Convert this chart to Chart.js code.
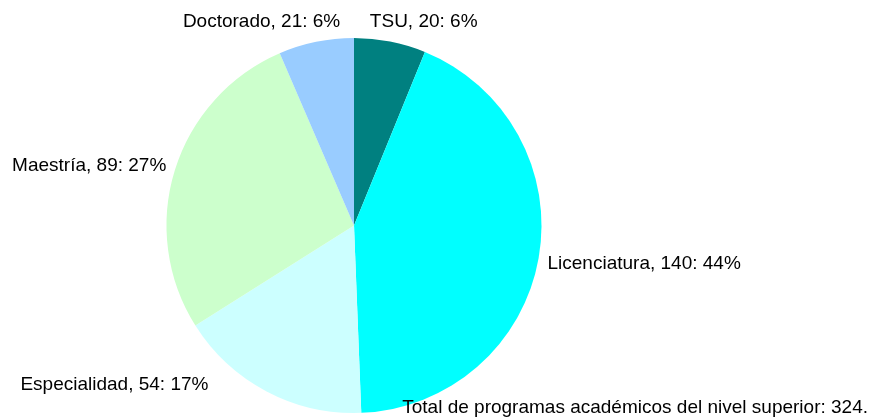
<!DOCTYPE html>
<html>
<head>
<meta charset="utf-8">
<script src="https://cdn.jsdelivr.net/npm/chart.js@4/dist/chart.umd.min.js"></script>
<style>
  html, body { margin: 0; padding: 0; background: #fff; }
  #wrap { width: 875px; height: 419px; }
</style>
</head>
<body>
<div id="wrap"><canvas id="c"></canvas></div>
<script>
// data
const niveles = ['TSU', 'Licenciatura', 'Especialidad', 'Maestría', 'Doctorado']
const programas = [20, 140, 54, 89, 21]
const colores = ['#008080', '#00FFFF', '#CCFFFF', '#CCFFCC', '#99CCFF']
const totalTexto = 'Total de programas académicos del nivel superior: '

// small per-label nudges (px), the original spreads some labels apart
const nudges = [[-22, -6], [0, 1], [-54, -23], [0, -1], [26, -6]]

const FONT = '19px "Liberation Sans", Arial, sans-serif'

// rounded percents, leftover goes to the biggest slice so they add up to 100
function percents(data){
  const total = data.reduce((a, b) => a + b, 0)
  const p = data.map(v => Math.round(v / total * 100))
  const diff = 100 - p.reduce((a, b) => a + b, 0)
  const big = data.indexOf(Math.max(...data))
  p[big] += diff
  return p
}

const pieLabels = {
  id: 'pieLabels',
  afterDraw(chart) {
    const ctx = chart.ctx
    const meta = chart.getDatasetMeta(0)
    const data = chart.data.datasets[0].data
    const total = data.reduce((a, b) => a + b, 0)
    const pct = percents(data)
    ctx.save()
    ctx.font = FONT
    ctx.fillStyle = '#000'
    ctx.textBaseline = 'alphabetic'
    const capH = 14
    meta.data.forEach((arc, i) => {
      const a = (arc.startAngle + arc.endAngle) / 2
      const dx = Math.cos(a), dy = Math.sin(a)
      const r = arc.outerRadius + 9
      const ax = arc.x + r * dx
      const ay = arc.y + r * dy
      const txt = chart.data.labels[i] + ', ' + data[i] + ': ' + pct[i] + '%'
      ctx.textAlign = dx >= 0 ? 'left' : 'right'
      const cy = ay + dy * capH / 2 + nudges[i][1]
      ctx.fillText(txt, ax + nudges[i][0], cy + capH / 2)
    })
    ctx.textAlign = 'right'
    ctx.fillText(totalTexto + total + '.', 868, 413)
    ctx.restore()
  }
}

new Chart(document.getElementById('c'), {
  type: 'pie',
  data: {
    labels: niveles,
    datasets: [{
      data: programas,
      backgroundColor: colores,
      borderWidth: 0
    }]
  },
  options: {
    responsive: true,
    maintainAspectRatio: false,
    animation: false,
    layout: { padding: { left: 166, right: 333, top: 38, bottom: 6 } },
    plugins: {
      legend: { display: false },
      tooltip: { enabled: false }
    }
  },
  plugins: [pieLabels]
})
</script>
</body>
</html>
